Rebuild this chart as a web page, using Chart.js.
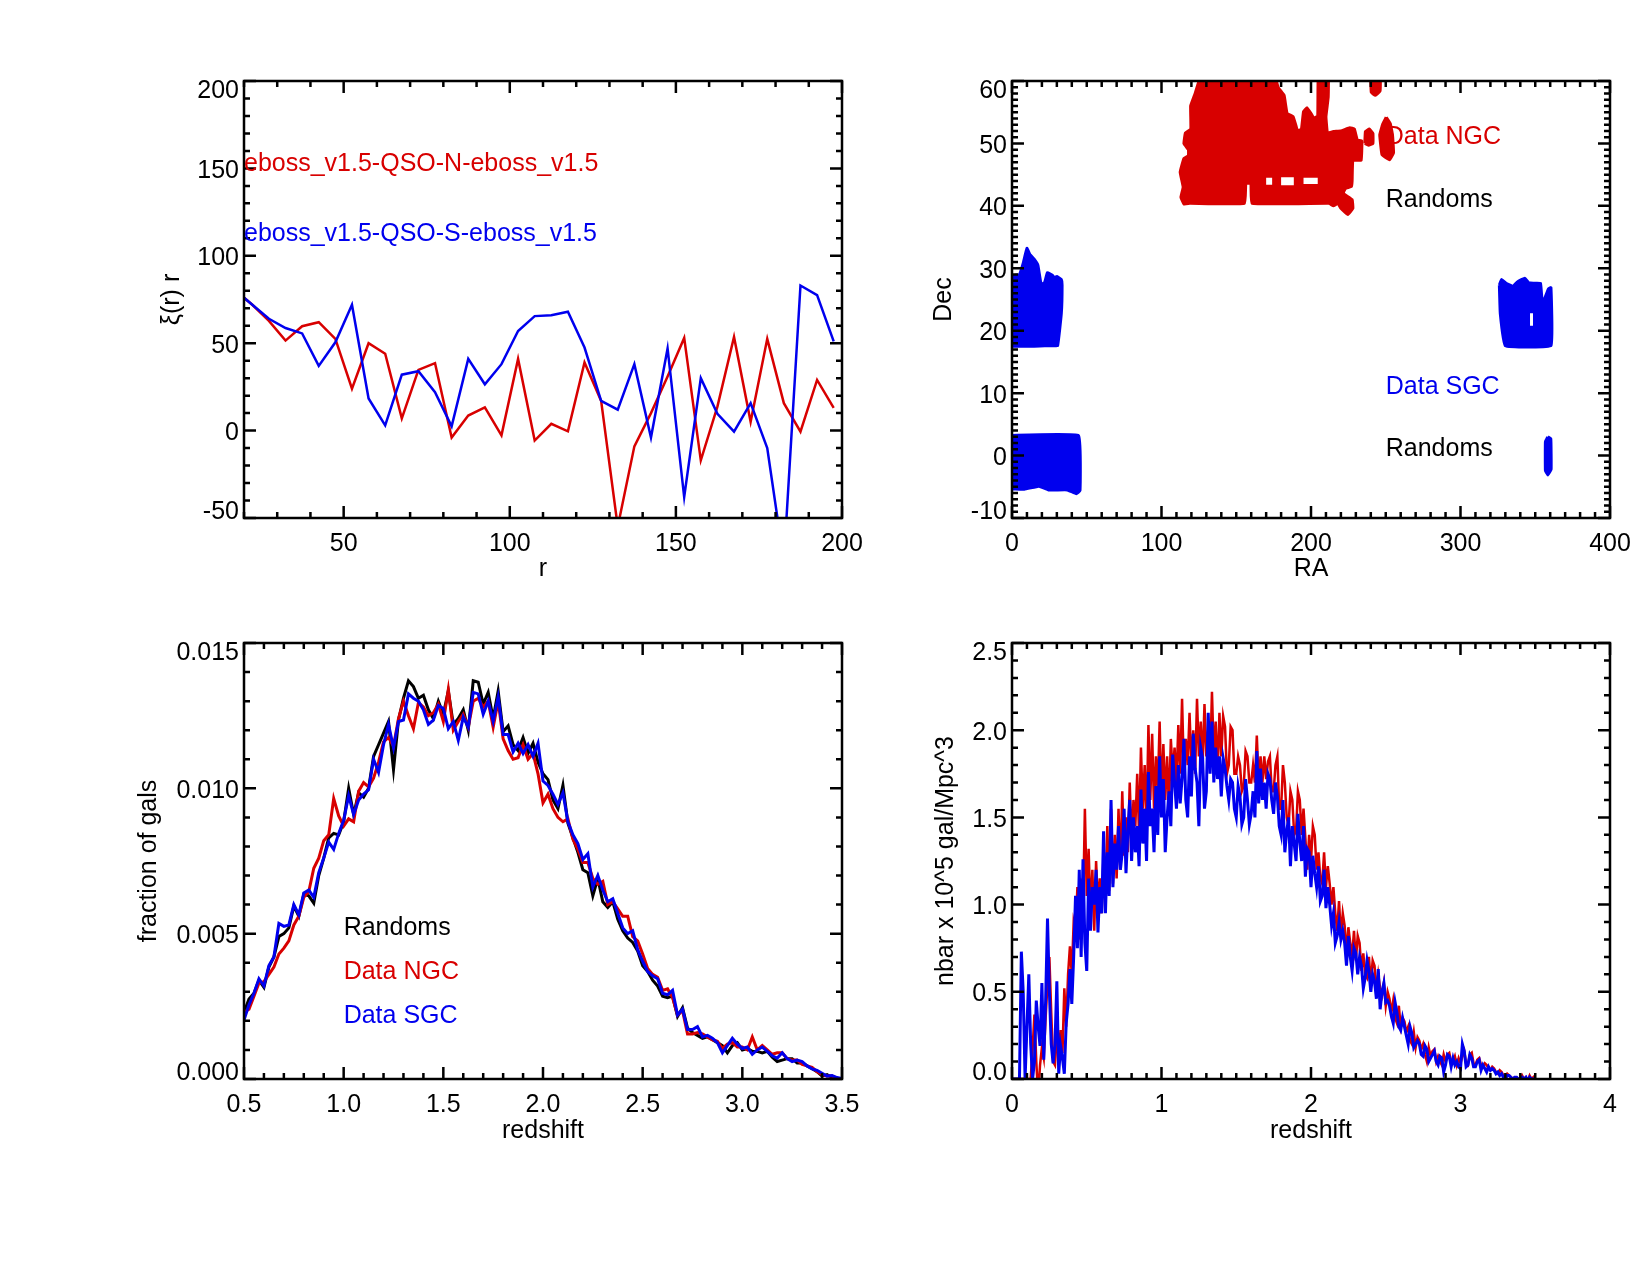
<!DOCTYPE html>
<html>
<head>
<meta charset="utf-8">
<title>eBOSS QSO diagnostics</title>
<script src="https://cdn.jsdelivr.net/npm/chart.js@4"></script>
<style>
  html, body { margin: 0; padding: 0; background: #fff; }
  #page { position: relative; width: 1650px; height: 1275px; overflow: hidden; }
  canvas { position: absolute; }
</style>
</head>
<body>
<div id="page">
  <canvas id="xiChart"></canvas>
  <canvas id="skyChart"></canvas>
  <canvas id="fracChart"></canvas>
  <canvas id="nbarChart"></canvas>
</div>
<script>
// top left: xi(r) r against r
const rBins = [17.5, 22.5, 27.5, 32.5, 37.5, 42.5, 47.5, 52.5, 57.5, 62.5, 67.5, 72.5, 77.5, 82.5, 87.5, 92.5, 97.5,
  102.5, 107.5, 112.5, 117.5, 122.5, 127.5, 132.5, 137.5, 142.5, 147.5, 152.5, 157.5, 162.5, 167.5, 172.5, 177.5,
  182.5, 187.5, 192.5, 197.5];
const xiNorth = [80, 72, 62.8, 51.5, 59.7, 62, 52.5, 24, 50, 44, 7, 34.7, 38.6, -4, 8.6, 13.3, -2.7,
  41, -5.7, 3.9, -0.4, 39, 17, -55, -9, 10, 31, 53, -17, 13.7, 53.6, 5, 52.5, 15.7, -0.6, 29, 13];
const xiSouth = [80, 72, 64, 58.7, 55.6, 37, 50.5, 72, 18.4, 3, 32, 34, 22, 2.5, 41, 26.5, 38,
  57, 65.5, 66, 68, 47.5, 17, 12, 38, -4, 47, -38, 30, 9.6, -0.6, 15.7, -10, -75, 83, 77.5, 51];

// top right: sky footprints as [RA, Dec] outlines
const ngcMain = [[127.6, 62], [174, 62], [178, 59], [182, 57.7], [184, 54.8], [188, 54.3], [190, 52.8], [191, 52],
  [193.6, 52.3], [195, 55.1], [197.4, 55.7], [200, 54.8], [202, 54], [204.5, 54.4], [205, 62], [211.5, 62], [211.5, 57.4],
  [210, 54.3], [211, 51.7], [215, 51.9], [220, 52], [226, 52.5], [229, 52.3], [231, 50.5], [234, 50.4], [233.5, 47.3],
  [228, 47.3], [227.5, 44], [227, 43.1], [223, 42.8], [221.5, 42], [227.5, 41], [228, 39.6], [224.7, 38.6], [220, 39.6],
  [218, 40.4], [215, 40], [212, 40.4], [160.5, 40.4], [159.8, 43.6], [156.4, 43.6], [155.5, 40.4], [119, 40.4], [115, 40.3],
  [113, 41.4], [114.5, 43], [112.5, 45.4], [115, 47.6], [118, 48], [118, 49], [115, 50], [116, 51.7], [119.6, 52.3],
  [119.5, 56], [122.5, 58], [127.6, 62]];
const ngcLumpTop = [[239.8, 62], [246.2, 62], [246.2, 58.4], [243, 57.7], [240.3, 58.2], [239.8, 62]];
const ngcLumpMid = [[236, 50], [236.4, 51.9], [239, 52.3], [241.4, 51.6], [241.4, 50], [238.5, 49.7], [236, 50]];
const ngcLumpRight = [[250.3, 54.2], [253, 53.2], [254.5, 51.4], [255.2, 48.5], [252.5, 47.4], [247.5, 48.2],
  [246, 51.4], [248, 53.1], [250.3, 54.2]];
const ngcHoleA = [[170, 43.4], [174, 43.4], [174, 44.5], [170, 44.5], [170, 43.4]];
const ngcHoleB = [[180, 43.3], [188.5, 43.3], [188.5, 44.6], [180, 44.6], [180, 43.3]];
const ngcHoleC = [[195, 43.5], [204.5, 43.5], [204.5, 44.5], [195, 44.5], [195, 43.5]];
const sgcUpperLeft = [[-3, 27.3], [2, 28.9], [5, 29], [7.7, 31], [10, 33.2], [12, 32.2], [14.7, 31.5], [17.3, 30.5],
  [19.5, 27.4], [21.8, 27.7], [23.7, 29.3], [27, 28.9], [28.2, 28.5], [30, 28.7], [33, 28.2], [33.5, 27.3], [33, 22.8],
  [30.5, 17.6], [26, 17.6], [22, 17.6], [-3, 17.6], [-3, 27.3]];
const sgcLowerLeft = [[-3, 3.2], [44.5, 3.2], [45.5, -5.6], [43, -6.1], [37, -5.5], [24.4, -5.5], [18, -4.9], [8.3, -5.4],
  [-3, -5.2], [-3, 3.2]];
const sgcUpperRight = [[326, 27.3], [327.5, 28.2], [330.4, 27.6], [335, 27.1], [338.5, 27.9], [343, 28.4], [345.5, 27.7],
  [348.7, 27.6], [353.5, 27.6], [354.5, 25], [356, 25], [358.8, 26.7], [360.5, 26.9], [360.5, 17.6], [330, 17.6], [326.6, 22.8],
  [326, 27.3]];
const sgcHole = [[346.5, 20.8], [348.5, 20.8], [348.5, 22.8], [346.5, 22.8], [346.5, 20.8]];
const sgcLowerRight = [[358.4, 3], [360.4, 2.7], [360.6, -2.2], [358.4, -3.1], [356.8, -2.4], [356.8, 2.2], [358.4, 3]];

// bottom left: fraction of galaxies per redshift bin, in units of 0.001
const fracRandoms = [2.3, 2.75, 2.95, 3.4, 3.15, 3.85, 4.2, 4.9, 5.0, 5.2,
  5.95, 5.6, 6.35, 6.3, 6.05, 7.0, 7.6, 8.3, 8.45, 8.4,
  8.85, 10.0, 9.1, 9.85, 9.7, 10.0, 11.1, 11.5, 11.9, 12.3,
  10.65, 12.35, 13.1, 13.7, 13.5, 13.1, 13.2, 12.7, 12.4, 13.0,
  12.55, 13.35, 12.2, 12.4, 12.7, 12.0, 13.7, 13.65, 12.9, 13.3,
  12.4, 13.35, 11.95, 12.15, 11.5, 11.3, 11.75, 11.2, 11.55, 10.9,
  10.5, 10.3, 9.6, 9.3, 10.1, 8.8, 8.3, 7.8, 7.2, 7.1,
  6.3, 6.9, 6.1, 5.9, 6.1, 5.5, 5.1, 4.85, 4.7, 4.4,
  3.9, 3.7, 3.4, 3.2, 2.85, 2.8, 2.85, 2.15, 2.45, 1.75,
  1.6, 1.5, 1.4, 1.45, 1.35, 1.25, 1.15, 0.9, 1.15, 1.25,
  1.0, 1.05, 0.95, 0.95, 0.9, 0.95, 0.75, 0.6, 0.65, 0.7,
  0.7, 0.55, 0.55, 0.45, 0.35, 0.25, 0.1, 0.15, 0.05, 0.02, 0.02];
const fracNorth = [2.3, 2.4, 2.85, 3.3, 3.35, 3.6, 3.85, 4.3, 4.5, 4.75,
  5.3, 5.6, 6.25, 6.45, 7.25, 7.6, 8.2, 8.4, 9.65, 9.05,
  8.7, 8.95, 8.85, 9.9, 10.2, 10.05, 10.35, 10.9, 11.6, 11.75,
  11.45, 12.4, 13.0, 12.5, 12.05, 12.95, 12.8, 12.5, 12.6, 12.9,
  12.3, 13.4, 12.0, 12.3, 12.55, 12.1, 13.0, 13.1, 12.8, 13.0,
  12.1, 13.0, 11.7, 11.3, 11.0, 11.05, 11.5, 11.0, 11.2, 10.5,
  9.5, 9.8, 9.3, 9.0, 8.85, 8.95, 8.25, 7.9, 7.45, 7.45,
  6.9, 6.7, 6.8, 6.0, 6.1, 5.85, 5.6, 5.6, 4.9, 4.75,
  4.3, 3.8, 3.6, 3.5, 3.05, 3.1, 2.8, 2.2, 2.35, 1.55,
  1.55, 1.6, 1.55, 1.45, 1.35, 1.3, 1.05, 1.2, 1.25, 1.1,
  1.1, 1.0, 1.45, 1.0, 1.15, 1.0, 0.85, 0.9, 0.9, 0.7,
  0.65, 0.65, 0.5, 0.45, 0.4, 0.25, 0.15, 0.1, 0.1, 0.03, 0.02];
const fracSouth = [2.03, 2.55, 2.95, 3.45, 3.2, 3.9, 4.2, 5.35, 5.25, 5.3,
  6.0, 5.65, 6.4, 6.5, 6.25, 7.1, 7.6, 8.15, 7.9, 8.45,
  8.9, 9.75, 9.1, 9.6, 9.8, 9.95, 11.0, 10.55, 11.5, 12.2,
  11.4, 12.3, 12.35, 13.25, 13.1, 13.0, 12.7, 12.2, 12.35, 12.85,
  12.75, 12.05, 12.3, 11.65, 12.45, 12.1, 13.3, 13.25, 12.55, 13.0,
  12.3, 13.15, 11.85, 11.85, 11.25, 11.55, 11.2, 11.5, 11.1, 11.55,
  10.25, 10.1, 9.8, 9.45, 9.85, 8.85, 8.4, 8.1, 7.55, 7.75,
  6.6, 7.0, 6.5, 6.1, 6.2, 5.7, 5.2, 5.0, 5.1, 4.45,
  4.05, 3.7, 3.55, 3.45, 2.95, 2.9, 3.05, 2.2, 2.4, 1.7,
  1.7, 1.8, 1.45, 1.5, 1.4, 1.25, 0.9, 1.15, 1.4, 1.2,
  1.05, 1.1, 0.85, 1.0, 1.1, 0.95, 0.8, 0.72, 0.9, 0.7,
  0.6, 0.65, 0.6, 0.45, 0.35, 0.3, 0.2, 0.1, 0.12, 0.05, 0.02];

// bottom right: nbar per redshift bin, first bin at z = 0
const nbarNorth = [0, 0, 0, 0, 0, 0, 0, 0, 0, 0, 0, 0.17, 0.37, 0.1, -0.1, 0.08, 0.18, 0.12, 0.35, 0.55,
  0.7, 0.38, 0.1, 0.08, 0.25, 0.16, 0.28, 0.15, 0.52, 0.3, 0.6, 0.76, 0.6, 0.9, 0.85, 1.1, 0.8, 1.15, 0.95, 1.55, 1.05,
  1.32, 0.95, 1.2, 0.85, 1.25, 1.0, 1.15, 0.95,
  1.3, 1.05, 1.45, 1.08, 1.55, 1.12, 1.4, 1.15,
  1.55, 1.2, 1.65, 1.28, 1.5, 1.3, 1.7, 1.35,
  1.6, 1.45, 1.75, 1.4, 1.9, 1.55, 1.8, 1.45,
  2.03, 1.6, 1.98, 1.55, 1.85, 1.65, 2.05, 1.6,
  1.92, 1.6, 1.85, 1.55, 1.95, 1.75, 1.9, 1.7,
  2.03, 1.75, 2.18, 1.75, 1.95, 1.8, 2.1, 1.8,
  2.0, 1.75, 2.18, 1.85, 2.05, 1.8, 2.15, 1.85,
  2.0, 1.8, 2.22, 1.85, 2.05, 1.75, 2.1, 1.85,
  2.08, 2.02, 1.75, 1.8, 2.02, 2.0, 1.75, 1.75,
  1.85, 1.8, 1.65, 1.68, 1.88, 1.85, 1.7, 1.7,
  1.8, 1.7, 1.97, 1.7, 1.85, 1.7, 1.85, 1.72,
  1.82, 1.85, 1.65, 1.65, 1.8, 1.85, 1.55, 1.55,
  1.8, 1.7, 1.5, 1.45, 1.65, 1.6, 1.4, 1.42,
  1.65, 1.6, 1.4, 1.55, 1.38, 1.2, 1.4, 1.25,
  1.45, 1.4, 1.2, 1.3, 1.15, 1.12, 1.3, 1.1,
  1.22, 1.12, 1.0, 1.1, 0.95, 0.85, 1.02, 0.82,
  0.95, 0.88, 0.72, 0.87, 0.78, 0.7, 0.85, 0.68,
  0.82, 0.78, 0.62, 0.72, 0.6, 0.58, 0.7, 0.55,
  0.68, 0.65, 0.5, 0.6, 0.52, 0.48, 0.55, 0.42,
  0.5, 0.46, 0.38, 0.45, 0.35, 0.32, 0.42, 0.3,
  0.35, 0.33, 0.27, 0.3, 0.22, 0.2, 0.27, 0.18,
  0.24, 0.22, 0.17, 0.2, 0.14, 0.1, 0.18, 0.13,
  0.16, 0.17, 0.1, 0.13, 0.1, 0.08, 0.14, 0.1,
  0.14, 0.15, 0.1, 0.1, 0.13, 0.08, 0.12, 0.09,
  0.13, 0.16, 0.09, 0.08, 0.14, 0.15, 0.09, 0.08,
  0.11, 0.12, 0.08, 0.07, 0.09, 0.08, 0.06, 0.05,
  0.07, 0.06, 0.04, 0.03, 0.05, 0.04, 0.02, 0.01,
  0.03, 0.02, 0.01, 0, 0.01, 0.01, 0, -0.01,
  0.02, 0, 0.01, -0.01, 0.02, 0, 0.01, 0.02];
const nbarSouth = [0, 0, 0, 0, 0, 0.73, 0.5, 0, 0.3, 0.6, 0.2, 0, 0.1, 0.45, 0.3, 0.19, 0.55, 0.11, 0.45, 0.92,
  0.5, 0.2, 0.09, 0.2, 0.56, 0.03, 0.19, 0.12, 0.03, 0.32, 0.43, 0.63, 0.43, 0.7, 1.05, 0.75, 1.2, 0.7, 1.26, 0.78, 0.62,
  1.15, 0.85, 1.1, 1.0, 1.2, 0.84, 1.1, 0.95,
  1.42, 0.95, 1.3, 1.05, 1.6, 1.1, 1.35, 1.2,
  1.45, 1.2, 1.3, 1.55, 1.18, 1.42, 1.6, 1.25,
  1.5, 1.3, 1.45, 1.22, 1.66, 1.35, 1.55, 1.25,
  1.76, 1.45, 1.55, 1.3, 1.68, 1.4, 1.85, 1.5,
  1.72, 1.3, 1.5, 1.65, 1.45, 1.86, 1.7, 1.55,
  1.8, 1.58, 1.72, 1.95, 1.6, 1.5, 1.85, 1.62,
  1.98, 1.78, 1.7, 1.45, 1.9, 1.84, 1.55, 1.65,
  2.1, 1.75, 2.05, 1.7, 1.9, 1.72, 1.85, 1.62,
  1.84, 1.78, 1.68, 1.6, 1.72, 1.7, 1.55, 1.5,
  1.68, 1.62, 1.46, 1.5, 1.72, 1.6, 1.46, 1.52,
  1.65, 1.5, 1.88, 1.58, 1.78, 1.6, 1.7, 1.55,
  1.75, 1.72, 1.6, 1.52, 1.7, 1.62, 1.45, 1.4,
  1.6, 1.3, 1.42, 1.5, 1.22, 1.45, 1.35, 1.25,
  1.52, 1.36, 1.25, 1.45, 1.16, 1.32, 1.3, 1.1,
  1.28, 1.18, 1.1, 1.22, 1.02, 1.05, 1.2, 0.98,
  1.1, 1.0, 0.88, 0.95, 0.78, 0.82, 0.9, 0.8,
  0.85, 0.78, 0.65, 0.82, 0.7, 0.62, 0.75, 0.72,
  0.6, 0.7, 0.65, 0.52, 0.58, 0.68, 0.62, 0.5,
  0.6, 0.56, 0.46, 0.63, 0.4, 0.5, 0.55, 0.44,
  0.45, 0.42, 0.36, 0.32, 0.44, 0.38, 0.3, 0.28,
  0.35, 0.3, 0.25, 0.2, 0.3, 0.26, 0.18, 0.2,
  0.22, 0.2, 0.14, 0.13, 0.19, 0.17, 0.1, 0.12,
  0.14, 0.16, 0.1, 0.08, 0.13, 0.12, 0.04, 0.08,
  0.14, 0.13, 0.07, 0.12, 0.08, 0.1, 0.07, 0.06,
  0.2, 0.16, 0.07, 0.08, 0.14, 0.12, 0.07, 0.07,
  0.1, 0.11, 0.05, 0.08, 0.06, 0.04, 0.07, 0.05,
  0.06, 0.05, 0.03, 0.04, 0.02, 0.03, 0.01, 0,
  0.02, 0.02, 0.01, 0, 0.01, 0.01, 0, 0,
  0.01, 0, 0.01, -0.01, 0.01, 0, 0, 0];

// tick labels
const xiXTicks = [50, 100, 150, 200];
const xiYTicks = [-50, 0, 50, 100, 150, 200];
const raTicks = [0, 100, 200, 300, 400];
const decTicks = [-10, 0, 10, 20, 30, 40, 50, 60];
const fracXTicks = [0.5, 1.0, 1.5, 2.0, 2.5, 3.0, 3.5];
const fracYTicks = [0, 0.005, 0.010, 0.015];
const nbarXTicks = [0, 1, 2, 3, 4];
const nbarYTicks = [0, 0.5, 1.0, 1.5, 2.0, 2.5];

const RED = '#d80000';
const BLUE = '#0000ee';
const BLACK = '#000000';
const FONT = '"Liberation Sans", Arial, sans-serif';
const FONT_SIZE = 25;

Chart.defaults.font.family = FONT;
Chart.defaults.font.size = FONT_SIZE;
Chart.defaults.color = BLACK;

function pairs(xs, ys) {
    return ys.map(function (y, i) { return { x: xs[i], y: y }; });
}

function outline(points) {
    return points.map(function (p) { return { x: p[0], y: p[1] }; });
}

function lineSet(xs, ys, color, width) {
    return {
        data: pairs(xs, ys),
        borderColor: color,
        borderWidth: width,
        pointRadius: 0,
        tension: 0,
        fill: false
    };
}

function region(points, color) {
    return {
        data: outline(points),
        borderColor: color,
        backgroundColor: color,
        borderWidth: 3,
        borderJoinStyle: 'round',
        pointRadius: 0,
        tension: 0.08,
        fill: 'shape'
    };
}

function hole(points) {
    return Object.assign(region(points, '#ffffff'), { borderWidth: 0, tension: 0 });
}

// axes frame with inward ticks on all four sides, the way IDL draws them
const idlFrame = {
    id: 'idlFrame',
    afterUpdate(chart) {
        // y labels sit a little low, first and last ones inside the frame
        const y = chart.scales.y;
        const items = y.getLabelItems(chart.chartArea);
        items.forEach(function (item) { item.options.translation[1] += 2.5; });
        items[0].options.translation[1] -= 8;
        items[items.length - 1].options.translation[1] += 8;
    },
    afterDraw(chart, args, opts) {
        const ctx = chart.ctx;
        const a = chart.chartArea;
        const xs = chart.scales.x;
        const ys = chart.scales.y;
        ctx.save();
        ctx.strokeStyle = BLACK;
        ctx.lineWidth = 2.5;
        ctx.beginPath();
        xs.ticks.forEach(function (t) {
            const p = xs.getPixelForValue(t.value);
            ctx.moveTo(p, a.bottom); ctx.lineTo(p, a.bottom - 12);
            ctx.moveTo(p, a.top); ctx.lineTo(p, a.top + 12);
        });
        ys.ticks.forEach(function (t) {
            const p = ys.getPixelForValue(t.value);
            ctx.moveTo(a.left, p); ctx.lineTo(a.left + 12, p);
            ctx.moveTo(a.right, p); ctx.lineTo(a.right - 12, p);
        });
        for (let i = 0; xs.min + i * opts.xMinor <= xs.max + 1e-9; i++) {
            const p = xs.getPixelForValue(xs.min + i * opts.xMinor);
            ctx.moveTo(p, a.bottom); ctx.lineTo(p, a.bottom - 6);
            ctx.moveTo(p, a.top); ctx.lineTo(p, a.top + 6);
        }
        for (let i = 0; ys.min + i * opts.yMinor <= ys.max + 1e-9; i++) {
            const p = ys.getPixelForValue(ys.min + i * opts.yMinor);
            ctx.moveTo(a.left, p); ctx.lineTo(a.left + 6, p);
            ctx.moveTo(a.right, p); ctx.lineTo(a.right - 6, p);
        }
        ctx.stroke();
        ctx.strokeRect(a.left, a.top, a.right - a.left, a.bottom - a.top);

        // labels written inside the panel, placed in data coordinates
        ctx.font = FONT_SIZE + 'px ' + FONT;
        ctx.textAlign = 'left';
        ctx.textBaseline = 'middle';
        (opts.notes || []).forEach(function (n) {
            ctx.fillStyle = n.color;
            ctx.fillText(n.text, xs.getPixelForValue(n.x), ys.getPixelForValue(n.y) + 2.5);
        });
        ctx.restore();
    }
};

function panel(id, box, cfg) {
    const canvas = document.getElementById(id);
    canvas.width = box.width;
    canvas.height = box.height;
    canvas.style.left = box.left + 'px';
    canvas.style.top = box.top + 'px';
    canvas.style.width = box.width + 'px';
    canvas.style.height = box.height + 'px';

    // plot frame in page pixels, minus the canvas offset
    const areaLeft = cfg.area[0] - box.left;
    const areaRight = cfg.area[1] - box.left;
    const areaTop = cfg.area[2] - box.top;
    const areaBottom = cfg.area[3] - box.top;
    const titleLeft = cfg.yTitleX - box.left - 15;

    return new Chart(canvas.getContext('2d'), {
        type: 'line',
        data: { datasets: cfg.datasets },
        plugins: [idlFrame],
        options: {
            responsive: false,
            animation: false,
            devicePixelRatio: 1,
            parsing: { xAxisKey: 'x', yAxisKey: 'y' },
            layout: {
                padding: {
                    left: titleLeft,
                    right: box.width - areaRight,
                    top: areaTop,
                    bottom: box.height - areaBottom - cfg.xHeight
                }
            },
            plugins: {
                legend: { display: false },
                title: { display: false },
                tooltip: { enabled: false },
                idlFrame: { xMinor: cfg.xMinor, yMinor: cfg.yMinor, notes: cfg.notes }
            },
            scales: {
                x: {
                    type: 'linear',
                    min: cfg.xRange[0],
                    max: cfg.xRange[1],
                    grid: { display: false, drawTicks: false },
                    border: { display: false },
                    afterBuildTicks(scale) { scale.ticks = cfg.xTicks.map(function (v) { return { value: v }; }); },
                    afterFit(scale) { scale.height = cfg.xHeight; },
                    ticks: {
                        padding: 11,
                        autoSkip: false,
                        maxRotation: 0,
                        callback: function (v) { return v.toFixed(cfg.xDecimals); }
                    },
                    title: { display: true, text: cfg.xTitle, padding: 0 }
                },
                y: {
                    type: 'linear',
                    min: cfg.yRange[0],
                    max: cfg.yRange[1],
                    grid: { display: false, drawTicks: false },
                    border: { display: false },
                    afterBuildTicks(scale) { scale.ticks = cfg.yTicks.map(function (v) { return { value: v }; }); },
                    afterFit(scale) { scale.width = areaLeft - titleLeft; },
                    ticks: {
                        padding: 5,
                        autoSkip: false,
                        callback: function (v) { return v.toFixed(cfg.yDecimals); }
                    },
                    title: { display: true, text: cfg.yTitle, padding: 0 }
                }
            }
        }
    });
}

const zFine = fracSouth.map(function (v, i) { return 0.5 + i * 0.025; });
const zNbar = nbarSouth.map(function (v, i) { return i * 0.0125; });
const toFraction = function (v) { return v / 1000; };

// note: Chart.js paints the first dataset last, so the top layer comes first in each list
panel('xiChart', { left: 0, top: 0, width: 880, height: 600 }, {
    area: [244, 842, 81, 518],
    yTitleX: 172,
    xHeight: 66,
    xRange: [20, 200], yRange: [-50, 200],
    xTicks: xiXTicks, yTicks: xiYTicks,
    xDecimals: 0, yDecimals: 0,
    xMinor: 10, yMinor: 10,
    xTitle: 'r', yTitle: 'ξ(r) r',
    datasets: [lineSet(rBins, xiSouth, BLUE, 2.5), lineSet(rBins, xiNorth, RED, 2.5)],
    notes: [
        { text: 'eboss_v1.5-QSO-N-eboss_v1.5', x: 20, y: 154, color: RED },
        { text: 'eboss_v1.5-QSO-S-eboss_v1.5', x: 20, y: 114, color: BLUE }
    ]
});

panel('skyChart', { left: 880, top: 0, width: 770, height: 600 }, {
    area: [1012, 1610, 81, 518],
    yTitleX: 944,
    xHeight: 66,
    xRange: [0, 400], yRange: [-10, 60],
    xTicks: raTicks, yTicks: decTicks,
    xDecimals: 0, yDecimals: 0,
    xMinor: 10, yMinor: 1,
    xTitle: 'RA', yTitle: 'Dec',
    datasets: [
        hole(ngcHoleA), hole(ngcHoleB), hole(ngcHoleC), hole(sgcHole),
        region(ngcMain, RED), region(ngcLumpTop, RED), region(ngcLumpMid, RED), region(ngcLumpRight, RED),
        region(sgcUpperLeft, BLUE), region(sgcLowerLeft, BLUE), region(sgcUpperRight, BLUE), region(sgcLowerRight, BLUE)
    ],
    notes: [
        { text: 'Data NGC', x: 250, y: 51.4, color: RED },
        { text: 'Randoms', x: 250, y: 41.4, color: BLACK },
        { text: 'Data SGC', x: 250, y: 11.4, color: BLUE },
        { text: 'Randoms', x: 250, y: 1.4, color: BLACK }
    ]
});

panel('fracChart', { left: 0, top: 600, width: 880, height: 675 }, {
    area: [244, 842, 643, 1079],
    yTitleX: 149,
    xHeight: 67,
    xRange: [0.5, 3.5], yRange: [0, 0.015],
    xTicks: fracXTicks, yTicks: fracYTicks,
    xDecimals: 1, yDecimals: 3,
    xMinor: 0.1, yMinor: 0.001,
    xTitle: 'redshift', yTitle: 'fraction of gals',
    datasets: [
        lineSet(zFine, fracSouth.map(toFraction), BLUE, 3),
        lineSet(zFine, fracNorth.map(toFraction), RED, 3),
        lineSet(zFine, fracRandoms.map(toFraction), BLACK, 3)
    ],
    notes: [
        { text: 'Randoms', x: 1.0, y: 0.00529, color: BLACK },
        { text: 'Data NGC', x: 1.0, y: 0.00377, color: RED },
        { text: 'Data SGC', x: 1.0, y: 0.00225, color: BLUE }
    ]
});

panel('nbarChart', { left: 880, top: 600, width: 770, height: 675 }, {
    area: [1012, 1610, 643, 1079],
    yTitleX: 946,
    xHeight: 67,
    xRange: [0, 4], yRange: [0, 2.5],
    xTicks: nbarXTicks, yTicks: nbarYTicks,
    xDecimals: 0, yDecimals: 1,
    xMinor: 0.1, yMinor: 0.1,
    xTitle: 'redshift', yTitle: 'nbar x 10^5 gal/Mpc^3',
    datasets: [lineSet(zNbar, nbarSouth, BLUE, 3), lineSet(zNbar, nbarNorth, RED, 2.5)]
});
</script>
</body>
</html>
